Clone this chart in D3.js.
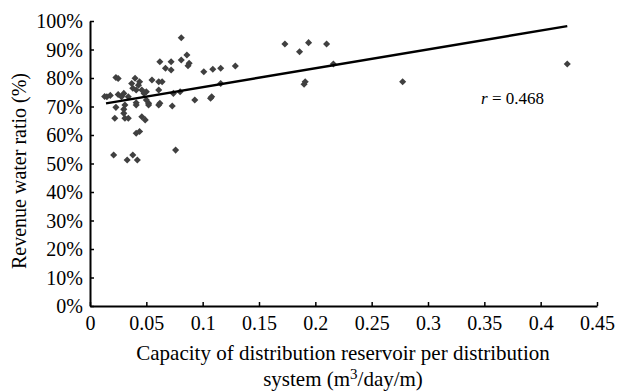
<!DOCTYPE html>
<html><head><meta charset="utf-8">
<script src="https://cdn.jsdelivr.net/npm/d3@7"></script>
<style>body{margin:0;background:#fff}svg{display:block}text{font-family:"Liberation Serif","Times New Roman",serif;fill:#000}</style>
</head><body>
<svg id="c" width="620" height="392"></svg>
<script>
// capacity (m3/day/m)
const capacity = [0.015,0.018,0.021,0.023,0.025,0.023,0.022,0.025,0.028,0.030,0.031,0.030,0.031,0.030,0.034,0.033,0.034,0.038,0.042,0.037,0.040,0.038,0.043,0.044,0.041,0.046,0.041,0.041,0.046,0.049,0.041,0.044,0.048,0.050,0.052,0.052,0.050,0.055,0.061,0.064,0.061,0.062,0.061,0.062,0.067,0.072,0.072,0.074,0.073,0.076,0.080,0.081,0.081,0.086,0.088,0.087,0.093,0.101,0.107,0.108,0.109,0.116,0.116,0.129,0.173,0.186,0.194,0.190,0.191,0.210,0.216,0.2775,0.4236,0.013];
// revenue water ratio (%)
const ratio = [73.4,73.9,53.0,80.2,79.8,69.7,65.9,74.2,73.4,74.6,70.5,67.6,65.9,69.0,73.4,51.2,65.9,53.0,51.2,78.1,79.9,76.4,77.5,78.7,75.8,75.8,70.5,71.3,66.4,65.3,60.6,61.2,74.6,75.2,71.1,70.5,72.3,79.3,78.7,78.7,75.8,71.1,70.5,85.7,83.4,85.7,82.8,74.6,70.2,54.7,75.2,94.1,86.3,88.1,85.2,84.3,72.3,82.2,72.9,73.4,83.1,83.4,78.1,84.2,91.9,89.2,92.4,77.8,78.7,91.9,84.9,78.7,84.9,73.5];
const xTicks = [0,0.05,0.1,0.15,0.2,0.25,0.3,0.35,0.4,0.45];
const yTicks = [0,10,20,30,40,50,60,70,80,90,100];
const trendSlope = 66.2, trendIntercept = 70.16;
const trendRange = [0.0142, 0.4236];
const rLabel = "0.468";

const svg = d3.select("#c");
const x = d3.scaleLinear().domain([0,0.45]).range([90,597]);
const y = d3.scaleLinear().domain([0,100]).range([306,21]);

const xAxis = svg.append("g").attr("transform","translate(0,306)")
  .call(d3.axisBottom(x).tickValues(xTicks).tickSizeInner(-4).tickSizeOuter(0).tickPadding(10).tickFormat(d=>d===0?"0":String(d)));
const yAxis = svg.append("g").attr("transform","translate(90,0)")
  .call(d3.axisLeft(y).tickValues(yTicks).tickSizeInner(-4).tickSizeOuter(0).tickPadding(7).tickFormat(d=>d+"%"));
[xAxis,yAxis].forEach(a=>{
  a.selectAll("path").attr("stroke","#000").attr("stroke-width",2);
  a.selectAll("line").attr("stroke","#000").attr("stroke-width",1.5);
  a.selectAll("text").attr("font-size",20).attr("font-family","Liberation Serif").attr("fill","#000");
});
yAxis.selectAll("text").attr("dy","0.33em");

const pts = capacity.map((c,i)=>({c,r:ratio[i]}));
svg.append("g").selectAll("path").data(pts).join("path")
  .attr("d", d3.symbol(d3.symbolSquare, 25)())
  .attr("transform", d=>`translate(${x(d.c)},${y(d.r)}) rotate(45)`)
  .attr("fill","#404040");

svg.append("line")
  .attr("x1",x(trendRange[0])).attr("y1",y(trendIntercept+trendSlope*trendRange[0]))
  .attr("x2",x(trendRange[1])).attr("y2",y(trendIntercept+trendSlope*trendRange[1]))
  .attr("stroke","#000").attr("stroke-width",2.5);

const rt = svg.append("text").attr("x",481).attr("y",104).attr("font-size",17);
rt.append("tspan").attr("font-style","italic").text("r");
rt.append("tspan").text(" = "+rLabel);

svg.append("text").attr("transform","translate(26,171) rotate(-90)").attr("text-anchor","middle").attr("font-size",20).text("Revenue water ratio (%)");
svg.append("text").attr("x",343).attr("y",360).attr("text-anchor","middle").attr("font-size",21).text("Capacity of distribution reservoir per distribution");
const t2 = svg.append("text").attr("x",343).attr("y",386).attr("text-anchor","middle").attr("font-size",21);
t2.append("tspan").text("system (m");
t2.append("tspan").attr("font-size",15).attr("dy",-7).text("3");
t2.append("tspan").attr("dy",7).text("/day/m)");
</script>
</body></html>
